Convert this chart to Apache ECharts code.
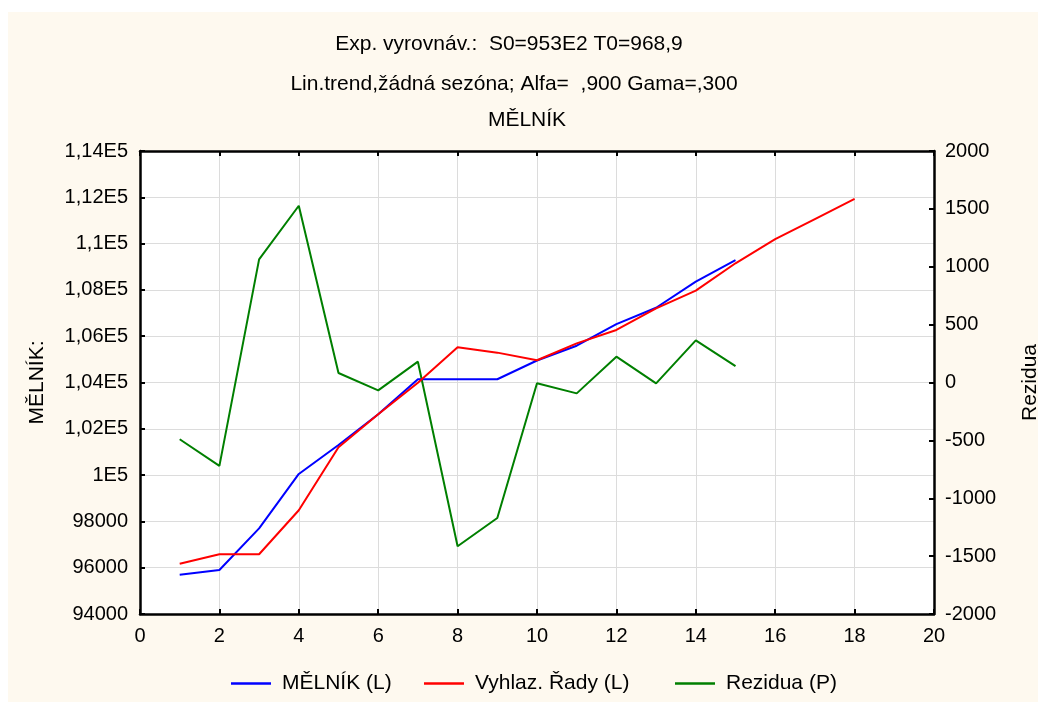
<!DOCTYPE html>
<html>
<head>
<meta charset="utf-8">
<script src="https://cdn.jsdelivr.net/npm/echarts@6/dist/echarts.min.js"></script>
<style>
html,body{margin:0;padding:0;background:#ffffff;width:1038px;height:702px;overflow:hidden;}
#panel{position:absolute;left:8px;top:12px;width:1030px;height:690px;background:#fef9ef;}
#chart{width:1030px;height:690px;}
</style>
</head>
<body>
<div id="panel"><div id="chart"></div></div>
<script>
// ---- data ----
const titleLines = ['Exp. vyrovnáv.:  S0=953E2 T0=968,9', 'Lin.trend,žádná sezóna; Alfa=  ,900 Gama=,300', 'MĚLNÍK'];
const seriesNames = ['MĚLNÍK (L)', 'Vyhlaz. Řady (L)', 'Rezidua (P)'];
const leftAxisName = 'MĚLNÍK:';
const rightAxisName = 'Rezidua';
const obsX = [1,2,3,4,5,6,7,8,9,10,11,12,13,14,15];
const smoothX = [1,2,3,4,5,6,7,8,9,10,11,12,13,14,15,16,17,18];
const melnik = [95700,95900,97700,100050,101300,102630,104140,104140,104140,104950,105590,106520,107230,108360,109290];
const vyhlaz = [96170,96580,96580,98480,101200,102630,103990,105520,105290,104960,105690,106270,107200,107970,109150,110190,111060,111930];
const rezidua = [-490,-720,1064,1527,82,-68,180,-1415,-1171,-7,-94,223,-7,364,142];
const leftTickValues = [94000,96000,98000,100000,102000,104000,106000,108000,110000,112000,114000];
const leftTickLabels = ['94000','96000','98000','1E5','1,02E5','1,04E5','1,06E5','1,08E5','1,1E5','1,12E5','1,14E5'];
const rightTickLabels = ['-2000','-1500','-1000','-500','0','500','1000','1500','2000'];

const pairs = (xs, ys) => ys.map((v, i) => [xs[i], v]);
const FONT = "'Liberation Sans', Arial, sans-serif";

const chart = echarts.init(document.getElementById('chart'), null, {renderer: 'canvas'});
const axisLine = {show: true, onZero: false, lineStyle: {color: '#000', width: 2.5}};
const tick = {show: true, inside: true, length: 5, lineStyle: {color: '#000', width: 2}};
const label = {color: '#000', fontSize: 20, fontFamily: FONT};

const option = {
  animation: false,
  textStyle: {fontFamily: FONT},
  title: [
    {text: titleLines[0], left: 501, top: 22, textAlign: 'center', padding: 0, textStyle: {fontSize: 21, fontWeight: 'normal', color: '#000', fontFamily: FONT}},
    {text: titleLines[1], left: 506, top: 62, textAlign: 'center', padding: 0, textStyle: {fontSize: 21, fontWeight: 'normal', color: '#000', fontFamily: FONT}},
    {text: titleLines[2], left: 519, top: 98, textAlign: 'center', padding: 0, textStyle: {fontSize: 21, fontWeight: 'normal', color: '#000', fontFamily: FONT}}
  ],
  legend: [0,1,2].map((k) => ({
    data: [{name: seriesNames[k], icon: 'rect'}],
    left: [223, 416, 667][k],
    top: 661,
    padding: 0,
    itemWidth: 40,
    itemHeight: 2.5,
    textStyle: {color: '#000', fontSize: 21, fontFamily: FONT, padding: [0,0,0,6]}
  })),
  grid: {left: 132, top: 139, right: 104, bottom: 88, show: true, backgroundColor: '#ffffff', borderWidth: 0, containLabel: false, outerBoundsMode: 'none'},
  xAxis: [
    {type: 'value', position: 'bottom', min: 0, max: 20, interval: 2,
     axisLine: axisLine, axisTick: tick, axisLabel: Object.assign({margin: 12}, label),
     splitLine: {show: true, lineStyle: {color: '#dcdcdc', width: 1}}},
    {type: 'value', position: 'top', min: 0, max: 20, interval: 2,
     axisLine: axisLine, axisTick: tick, axisLabel: {show: false}, splitLine: {show: false}}
  ],
  yAxis: [
    {type: 'value', position: 'left', min: 94000, max: 114000, interval: 2000,
     name: leftAxisName, nameLocation: 'middle', nameGap: 92, nameRotate: 90,
     nameTextStyle: {color: '#000', fontSize: 21, fontFamily: FONT},
     axisLine: axisLine, axisTick: tick,
     axisLabel: Object.assign({margin: 12, formatter: (v) => { const i = leftTickValues.indexOf(v); return i >= 0 ? leftTickLabels[i] : ''; }}, label),
     splitLine: {show: true, lineStyle: {color: '#dcdcdc', width: 1}}},
    {type: 'value', position: 'right', min: -2000, max: 2000, interval: 500, alignTicks: false,
     name: rightAxisName, nameLocation: 'middle', nameGap: 86, nameRotate: 90,
     nameTextStyle: {color: '#000', fontSize: 21, fontFamily: FONT},
     axisLine: axisLine, axisTick: tick,
     axisLabel: Object.assign({margin: 11, formatter: (v) => { const i = Math.round((v + 2000) / 500); return rightTickLabels[i] || ''; }}, label),
     splitLine: {show: false}}
  ],
  series: [
    {name: seriesNames[0], type: 'line', xAxisIndex: 0, yAxisIndex: 0, data: pairs(obsX, melnik),
     showSymbol: false, symbol: 'none', lineStyle: {color: '#0000ff', width: 2}, itemStyle: {color: '#0000ff'}, z: 3},
    {name: seriesNames[1], type: 'line', xAxisIndex: 0, yAxisIndex: 0, data: pairs(smoothX, vyhlaz),
     showSymbol: false, symbol: 'none', lineStyle: {color: '#ff0000', width: 2}, itemStyle: {color: '#ff0000'}, z: 4},
    {name: seriesNames[2], type: 'line', xAxisIndex: 0, yAxisIndex: 1, data: pairs(obsX, rezidua),
     showSymbol: false, symbol: 'none', lineStyle: {color: '#007f00', width: 2}, itemStyle: {color: '#007f00'}, z: 2}
  ]
};
chart.setOption(option);
</script>
</body>
</html>
